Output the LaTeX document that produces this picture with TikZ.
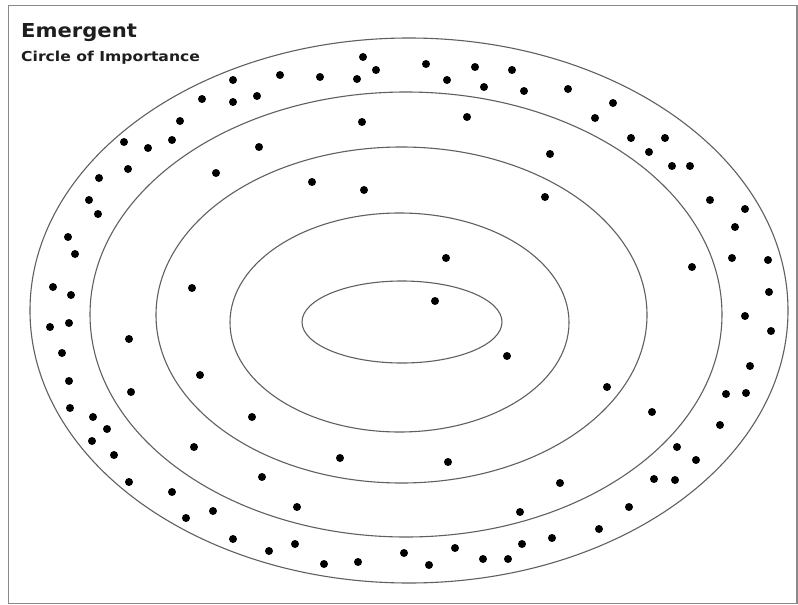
\documentclass[tikz,border=0pt]{standalone}
\usepackage{fontspec}
\setmainfont{DejaVu Sans}
\begin{document}
\begin{tikzpicture}[x=1pt,y=-1pt,
  ring/.style={draw=ringgray,line width=1.1pt},
  dot/.style={fill=black},
  frame/.style={draw=framegray,line width=1.3pt},
  titletext/.style={anchor=base west,inner sep=0pt,text=titleblack,font=\bfseries}]
\definecolor{ringgray}{HTML}{606060}
\definecolor{framegray}{HTML}{8A8A8A}
\definecolor{titleblack}{HTML}{1E1E1E}
\useasboundingbox (0,0) rectangle (798,605);
\fill[white] (0,0) rectangle (798,605);
\draw[frame] (8.5,5.5) rectangle (797,603.5);
% rings
\draw[ring] (409,310.5) ellipse [x radius=379, y radius=272.5];
\draw[ring] (406,314.5) ellipse [x radius=316, y radius=222.5];
\draw[ring] (401.5,315) ellipse [x radius=245.5, y radius=168];
\draw[ring] (399.5,322.5) ellipse [x radius=169.5, y radius=109.5];
\draw[ring] (402,322) ellipse [x radius=100, y radius=41];
% dots
\foreach \p in {(363,57),(376,70),(357,79),(320,77),(280,75),(233,80),(257,96),(233,102),(202,99),(180,121),(172,140),(148,148),(124,142),(128,169),(99,178),(89,200),(98,214),(68,237),(75,254),(53,287),(71,295),(192,288),(362,122),(259,147),(216,173),(312,182),(364,190),
(426,64),(447,80),(475,67),(484,87),(512,70),(524,91),(568,89),(613,103),(595,118),(467,117),(631,138),(665,138),(649,152),(672,166),(690,166),(550,154),(545,197),(710,200),(745,209),(735,227),(732,258),(768,260),(692,267),(769,292),(446,258),(435,301),
(50,327),(69,323),(62,353),(69,381),(70,408),(93,417),(107,429),(92,441),(114,455),(129,482),(172,492),(186,518),(213,511),(233,539),(269,551),(295,544),(324,564),(358,562),(129,339),(131,392),(200,375),(252,417),(194,447),(262,477),(297,507),(340,458),
(507,356),(607,387),(652,412),(448,462),(560,483),(520,512),(522,544),(552,538),(599,529),(629,507),(654,479),(675,480),(696,460),(677,447),(720,425),(726,394),(746,393),(750,366),(745,316),(771,331),(404,553),(429,565),(455,548),(483,559),(508,559)}
  \fill[dot] \p circle (4);
% title
\node[titletext] (title) at (21,37) {\fontsize{19.2}{22}\selectfont\scalebox{1.1}[1]{Emergent}};
\node[titletext] (subtitle) at (21,61) {\fontsize{13.7}{16}\selectfont\scalebox{1.14}[1]{Circle of Importance}};
\end{tikzpicture}
\end{document}
